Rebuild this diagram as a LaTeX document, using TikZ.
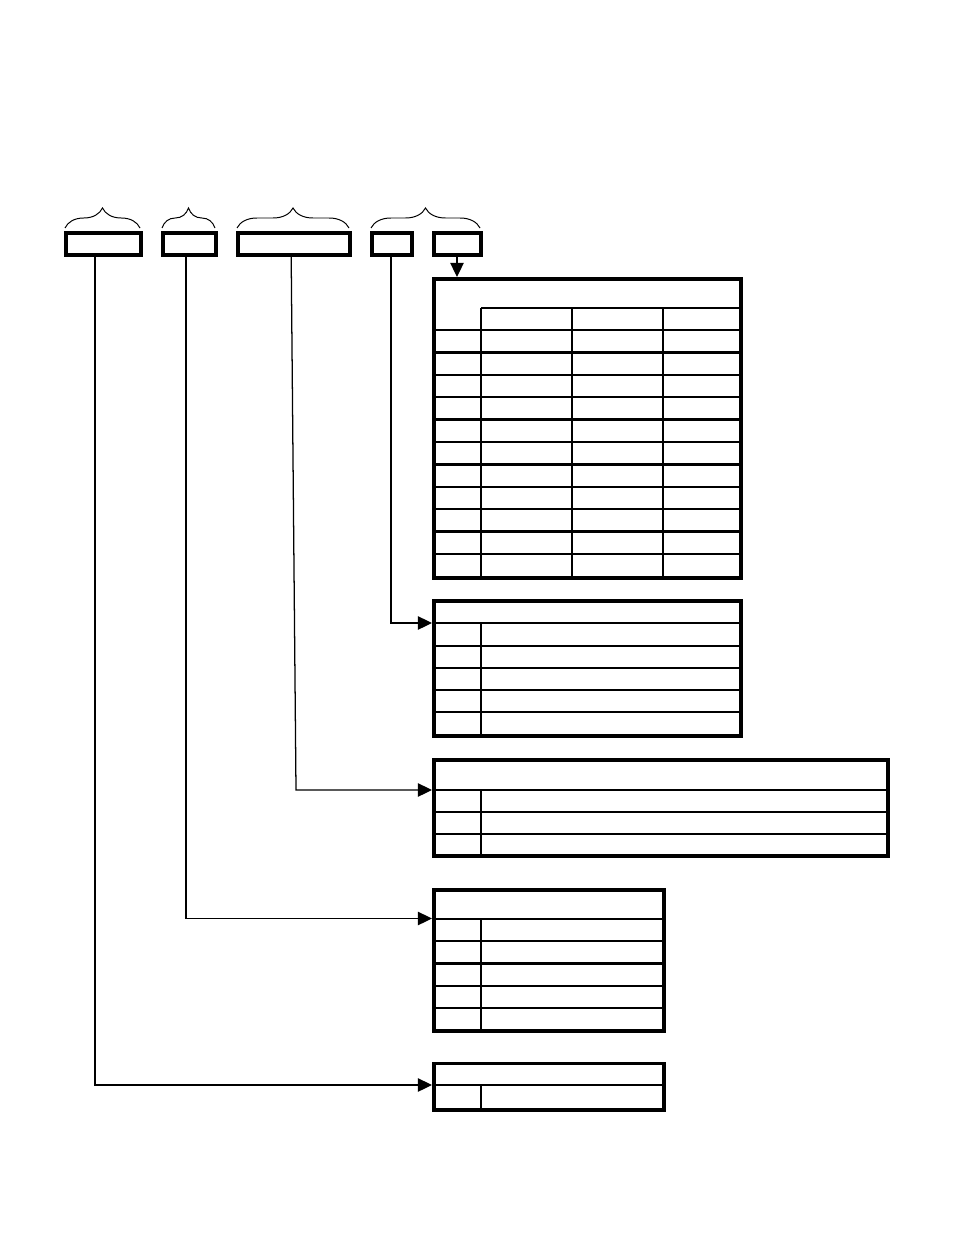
\documentclass[tikz,border=0pt]{standalone}
\usepackage{tikz}
\usetikzlibrary{arrows.meta,decorations.pathreplacing}

\begin{document}
\begin{tikzpicture}[x=0.025cm, y=-0.025cm,
	field/.style={draw, line width=2.8pt, minimum height=0.55cm, inner sep=0pt},
	frame/.style={line width=2.8pt},
	rule/.style={line width=1.8pt},
	link/.style={line width=0.9pt, -{Triangle[length=10pt,width=9.5pt]}},
	curly/.style={line width=0.7pt, decorate, decoration={brace, amplitude=0.5cm}}]
	\useasboundingbox (0,0) rectangle (954,1235);
	% record fields
	\node[field, minimum width=1.875cm] (f1) at (103.5,244) {};
	\node[field, minimum width=1.325cm] (f2) at (189.5,244) {};
	\node[field, minimum width=2.8cm] (f3) at (294,244) {};
	\node[field, minimum width=1cm] (f4) at (392,244) {};
	\node[field, minimum width=1.175cm] (f5) at (457.5,244) {};
	\draw[curly] (65,228) -- (140,228);
	\draw[curly] (162,228) -- (215,228);
	\draw[curly] (237,228) -- (349,228);
	\draw[curly] (371,228) -- (480,228);
	% table 1
	\draw[frame] (434,279) rectangle (741,578);
	\draw[rule] (481,308) -- (741,308);
	\foreach \x in {481,572,663} \draw[rule] (\x,308) -- (\x,578);
	\foreach \k in {0,...,10} \draw[rule] (434,330+22.4*\k) -- (741,330+22.4*\k);
	% table 2
	\draw[frame] (434,601) rectangle (741,736);
	\foreach \y in {623,646,668,690,712} \draw[rule] (434,\y) -- (741,\y);
	\draw[rule] (481,623) -- (481,736);
	% table 3
	\draw[frame] (434,760) rectangle (888,856);
	\foreach \y in {790,812,834} \draw[rule] (434,\y) -- (888,\y);
	\draw[rule] (481,790) -- (481,856);
	% table 4
	\draw[frame] (434,890) rectangle (664,1031);
	\foreach \y in {919,941,963.5,986,1008} \draw[rule] (434,\y) -- (664,\y);
	\draw[rule] (481,919) -- (481,1031);
	% table 5
	\draw[frame] (434,1063.5) rectangle (664,1110);
	\draw[rule] (434,1085) -- (664,1085);
	\draw[rule] (481,1085) -- (481,1110);
	% links
	\coordinate (in1) at (457,277);
	\coordinate (in2) at (432,623);
	\coordinate (in3) at (432,790);
	\coordinate (in4) at (432,918.5);
	\coordinate (in5) at (432,1085);
	\coordinate (b2) at (391,623);
	\coordinate (b3) at (296,790);
	\coordinate (b4) at (186,918.5);
	\coordinate (b5) at (95,1085);
	\draw[link] (f5.south -| in1) -- (in1);
	\draw[link] (f4.south -| b2) -- (b2) -- (in2);
	\draw[link] ([xshift=-2pt]f3.south) -- (b3) -- (in3);
	\draw[link] (f2.south -| b4) -- (b4) -- (in4);
	\draw[link] (f1.south -| b5) -- (b5) -- (in5);
\end{tikzpicture}
\end{document}
